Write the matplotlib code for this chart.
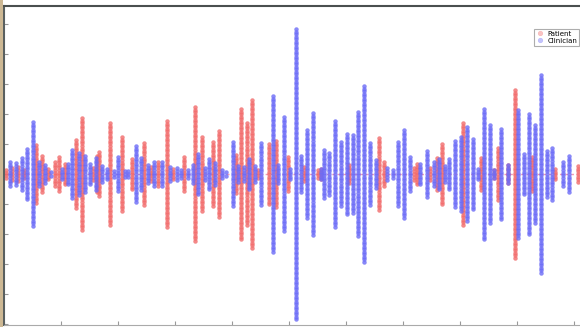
import numpy as np
import matplotlib
matplotlib.use("Agg")
import matplotlib.pyplot as plt
from matplotlib.patches import Rectangle

# 振幅データ (サンプル位置, 振幅)
patient_t = [2, 8, 14, 20, 32, 38, 44, 51, 55, 61, 72, 78, 89, 93, 95, 106, 118, 128,
             140, 147, 154, 163, 169, 180, 191, 198, 209, 215, 232, 237, 243, 248,
             254, 265, 272, 284, 300, 314, 317, 345, 375, 380, 410, 413, 426, 433,
             438, 459, 477, 490, 494, 504, 511, 528, 551, 574]
patient_a = [4, 6, 7, 4, 29, 18, 5, 12, 17, 10, 34, 56, 6, 18, 22, 51, 37, 15,
             31, 7, 12, 53, 5, 17, 67, 37, 32, 43, 19, 65, 51, 74,
             4, 30, 33, 17, 7, 4, 5, 9, 36, 12, 6, 10, 6, 16,
             30, 51, 16, 4, 26, 9, 84, 17, 5, 8]

clinician_t = [6, 12, 18, 23, 29, 35, 41, 47, 58, 64, 68, 75, 81, 86, 92, 98, 103,
               110, 114, 121, 124, 132, 137, 144, 150, 158, 166, 173, 177, 184, 189,
               194, 201, 205, 211, 218, 222, 229, 234, 240, 245, 251, 257, 269, 274,
               280, 286, 292, 297, 303, 309, 317, 320, 325, 331, 337, 343, 349, 354,
               360, 366, 372, 383, 389, 394, 400, 406, 416, 423, 430, 435, 441, 445,
               451, 457, 463, 469, 474, 480, 486, 490, 497, 504, 514, 520, 525, 531,
               537, 543, 548, 559, 565]
clinician_a = [12, 11, 16, 25, 52, 12, 9, 2, 5, 10, 24, 21, 18, 10, 16, 8, 5,
               3, 17, 3, 3, 28, 16, 9, 12, 12, 7, 6, 4, 4, 9,
               20, 6, 15, 11, 4, 2, 32, 8, 7, 15, 8, 31, 78, 9,
               57, 5, 145, 18, 44, 61, 5, 24, 21, 53, 32, 40, 39, 62,
               88, 31, 14, 6, 4, 32, 44, 17, 10, 23, 12, 15, 8, 15,
               33, 37, 47, 35, 5, 65, 49, 4, 45, 9, 64, 20, 60, 49,
               99, 23, 26, 12, 18]

W, H = 580, 327
fig = plt.figure(figsize=(W / 100, H / 100), dpi=100)
fig.patch.set_facecolor("white")

# 左端の枠
fig.patches.append(Rectangle((0, 0), 3 / W, 1, transform=fig.transFigure,
                             facecolor="#cdb894", edgecolor="none", zorder=0))

ax = fig.add_axes([4 / W, 2 / H, 576 / W, 319 / H])

red = (0.95, 0.42, 0.42)
blue = (0.42, 0.42, 0.97)

ax.axhline(0, color=(0.95, 0.6, 0.7), lw=1.0, ls=(0, (2, 2)), zorder=1)


def draw_stems(ts, amps, color, label):
    first = True
    for t, a in zip(ts, amps):
        n = max(1, int(2 * a / 2.5) + 1)
        y = np.linspace(-a, a, n)
        ax.plot(np.full(n, t), y, "o", ms=2.8, color=color, mec=color, mew=0.3,
                alpha=0.8, label=label if first else None, zorder=2)
        first = False


draw_stems(patient_t, patient_a, red, "Patient")
draw_stems(clinician_t, clinician_a, blue, "Clinician")

ax.set_xlim(0, 576)
ax.set_ylim(-151, 168)
ax.set_xticks(np.arange(0, 577, 57))
ax.set_yticks(np.arange(-150, 168, 30))
ax.set_xticklabels([])
ax.set_yticklabels([])
ax.tick_params(direction="in", length=3, width=0.8, color="#999999")

ax.spines["right"].set_visible(False)
ax.spines["top"].set_color("#4a4f4f")
ax.spines["top"].set_linewidth(1.5)
ax.spines["left"].set_color("#5a6060")
ax.spines["left"].set_linewidth(1.5)
ax.spines["bottom"].set_color("#aaaaaa")

leg = ax.legend(loc="upper right", bbox_to_anchor=(579 / W, 1 - 29 / H),
                bbox_transform=fig.transFigure, borderaxespad=0,
                fontsize=5, frameon=True, fancybox=False, handlelength=1.2,
                handletextpad=0.5, borderpad=0.25, labelspacing=0.15, markerscale=1.2)
leg.get_frame().set_edgecolor("#999999")
leg.get_frame().set_linewidth(0.8)
for h in leg.legend_handles:
    h.set_alpha(0.4)

fig.savefig("out.png", dpi=100)
